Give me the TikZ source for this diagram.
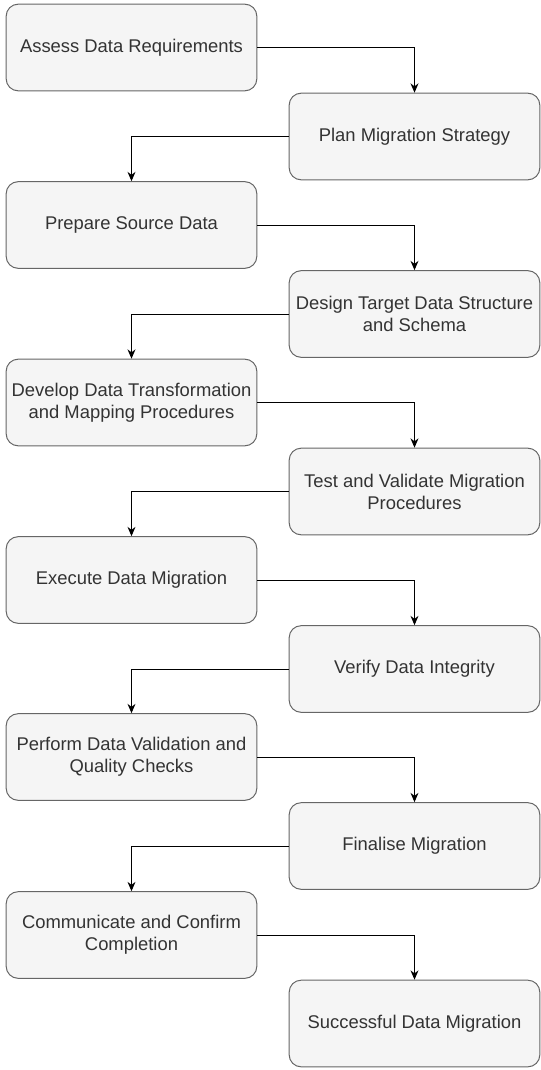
\documentclass[tikz,border=0pt]{standalone}
\usepackage{fontspec}
\setmainfont{Liberation Sans}
\usepackage{tikz}
\usetikzlibrary{arrows.meta}

\definecolor{stepfill}{RGB}{245,245,245}
\definecolor{stepline}{RGB}{102,102,102}
\definecolor{steptext}{RGB}{51,51,51}

\tikzset{
  stepbox/.style={draw=stepline, fill=stepfill, line width=0.75pt, rounded corners=9pt,
    minimum width=188pt, minimum height=65pt, inner sep=0pt, align=center,
    text=steptext, font=\fontsize{13.8}{16.5}\selectfont},
  flow/.style={draw=black, line width=0.75pt, -{Stealth[length=7pt,width=6pt]}}
}

\begin{document}
\begin{tikzpicture}[x=0.75pt,y=0.75pt,yscale=-1,xscale=1]
\useasboundingbox (0,0) rectangle (541,1070);

% Left column
\node [stepbox] (assess) at (131.5,47.5) {Assess Data Requirements};
\node [stepbox] (prepare) at (131.5,225) {Prepare Source Data};
\node [stepbox] (develop) at (131.5,402.5) {Develop Data Transformation\\and Mapping Procedures};
\node [stepbox] (execute) at (131.5,580) {Execute Data Migration};
\node [stepbox] (perform) at (131.5,757) {Perform Data Validation and\\Quality Checks};
\node [stepbox] (communicate) at (131.5,935) {Communicate and Confirm\\Completion};

% Right column
\node [stepbox] (plan) at (414.5,136.5) {Plan Migration Strategy};
\node [stepbox] (design) at (414.5,314) {Design Target Data Structure\\and Schema};
\node [stepbox] (test) at (414.5,491.5) {Test and Validate Migration\\Procedures};
\node [stepbox] (verify) at (414.5,669) {Verify Data Integrity};
\node [stepbox] (finalise) at (414.5,846) {Finalise Migration};
\node [stepbox] (success) at (414.5,1023.5) {Successful Data Migration};

% Connectors
\draw [flow] (assess.east) -| (plan.north);
\draw [flow] (plan.west) -| (prepare.north);
\draw [flow] (prepare.east) -| (design.north);
\draw [flow] (design.west) -| (develop.north);
\draw [flow] (develop.east) -| (test.north);
\draw [flow] (test.west) -| (execute.north);
\draw [flow] (execute.east) -| (verify.north);
\draw [flow] (verify.west) -| (perform.north);
\draw [flow] (perform.east) -| (finalise.north);
\draw [flow] (finalise.west) -| (communicate.north);
\draw [flow] (communicate.east) -| (success.north);

\end{tikzpicture}
\end{document}
